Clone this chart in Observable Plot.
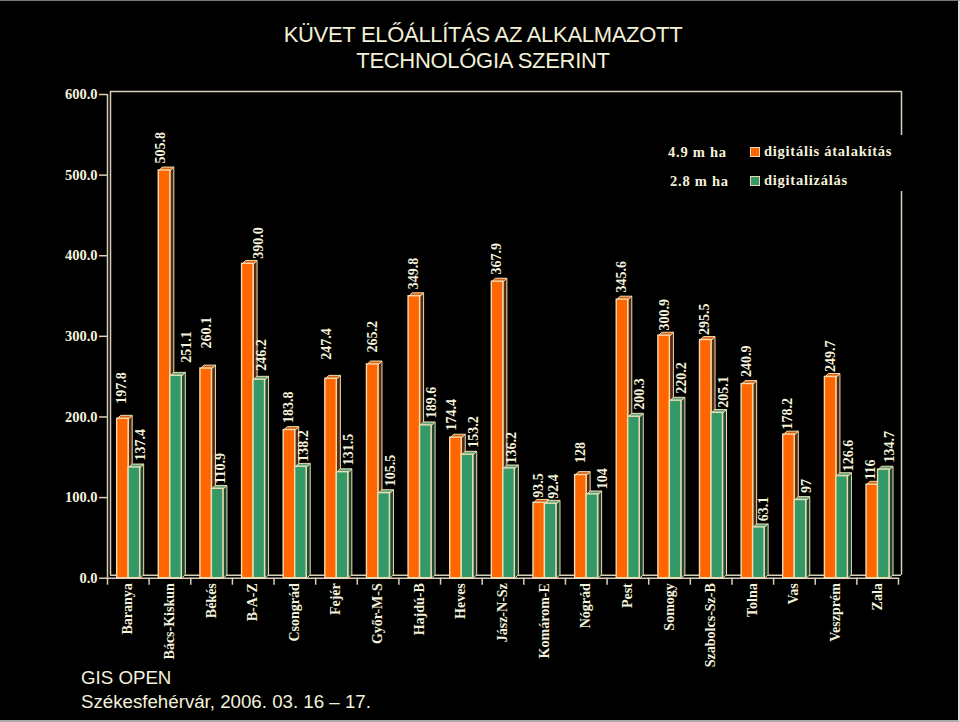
<!DOCTYPE html>
<html><head><meta charset="utf-8">
<script src="https://cdn.jsdelivr.net/npm/d3@7"></script>
<script src="https://cdn.jsdelivr.net/npm/@observablehq/plot@0.6"></script>
<style>
html,body{margin:0;padding:0;background:#000;width:960px;height:722px;overflow:hidden}
#wrap{position:relative;width:960px;height:722px;background:#000;overflow:hidden}
#wrap svg{position:absolute;left:0;top:0;background:#000}
.t{position:absolute;color:#f5f2dc;white-space:nowrap}
.title{font:22px "Liberation Sans";left:0;width:966px;text-align:center;letter-spacing:-.3px;color:#f3f0d8}
.foot{font:18.7px "Liberation Sans";left:81px}
.leg{font:bold 14.5px "Liberation Serif";letter-spacing:.75px}
.sw{position:absolute;width:8px;height:8px;border:1px solid #ecd9b0}
#mask{position:absolute;left:660px;top:135px;width:245px;height:56px;background:#000}
#edge{position:absolute;left:0;top:0;width:958px;border-top:1px solid #777;border-right:2px solid #ddd;border-bottom:2px solid #aaa;box-sizing:content-box;height:719px;pointer-events:none}
</style></head><body>
<div id="wrap"></div>
<script>
const categories = ["Baranya","Bács-Kiskun","Békés","B-A-Z","Csongrád","Fejér","Győr-M-S","Hajdú-B","Heves","Jász-N-Sz","Komárom-E","Nógrád","Pest","Somogy","Szabolcs-Sz-B","Tolna","Vas","Veszprém","Zala"];
const conversion = ["197.8","505.8","260.1","390.0","183.8","247.4","265.2","349.8","174.4","367.9","93.5","128","345.6","300.9","295.5","240.9","178.2","249.7","116"];
const digitizing = ["137.4","251.1","110.9","246.2","138.2","131.5","105.5","189.6","153.2","136.2","92.4","104","200.3","220.2","205.1","63.1","97","126.6","134.7"];
const yTicks = [0,100,200,300,400,500,600];

const cream = "#f0dcb4", ink = "#f5f2dc";
const depthX = 0.085, depthY = 4.2;   // oblique depth of the columns, in scale units
const barW = 0.276, barStart = 0.232;

function faces(labels, slot, front, side, top){
  const rows = labels.map((s,i)=>({i, v:+s, s, x1:i+barStart+slot*barW, x2:i+barStart+(slot+1)*barW}));
  const sidePts = rows.flatMap(r=>[[r.x2,0],[r.x2+depthX,depthY],[r.x2+depthX,r.v+depthY],[r.x2,r.v]].map(([x,y])=>({x,y,z:r.i})));
  const topPts = rows.flatMap(r=>[[r.x1,r.v],[r.x1+depthX,r.v+depthY],[r.x2+depthX,r.v+depthY],[r.x2,r.v]].map(([x,y])=>({x,y,z:r.i})));
  const line = {x:"x",y:"y",z:"z",curve:"linear-closed",stroke:cream,strokeWidth:1};
  return {rows, marks:[
    Plot.line(sidePts,{...line,fill:side}),
    Plot.line(topPts,{...line,fill:top}),
    Plot.rectY(rows,{x1:"x1",x2:"x2",y1:0,y2:"v",fill:front,stroke:cream,strokeWidth:1.4})
  ]};
}
const A = faces(conversion,0,"#ff6600","#5a2a0a","#d9600f");
const B = faces(digitizing,1,"#339966","#1d4a33","#5aa67c");

// label nudges: value -> [dx, gap above the column]; anything else sits at the default
const nudge = {
 "505.8":[-4,7],"390.0":[11,5],"247.4":[-5,19],"174.4":[-4,7],"260.1":[0,20],"265.2":[0,12],"128":[0,12],"197.8":[-1,15],
 "93.5":[-1,5],"300.9":[0,5],"295.5":[-1,5],"249.7":[0,5],"178.2":[-1,5],
 "251.1":[10,13],"104":[10,5],"246.2":[2,9],"110.9":[3,5],"138.2":[3,5],"136.2":[2,5],"92.4":[3,5],"205.1":[6,5],"116":[-2,5],
 "63.1":[5,6],"126.6":[6,5]
};
function labelMarks(rows, defDx){
  return rows.map(r=>{
    const [dx,gap]=nudge[r.s]||[defDx,7];
    return Plot.text([r],{x:d=>(d.x1+d.x2)/2,y:"v",text:"s",rotate:-90,textAnchor:"start",dx,dy:-gap,
      fill:ink,fontFamily:"Liberation Serif",fontWeight:"bold",fontSize:14});
  });
}
const wall = "#d8d0b8";
const plot = Plot.plot({
  width:960,height:722,marginLeft:107,marginRight:62,marginTop:94,marginBottom:144.3,
  style:{background:"#000"},
  x:{domain:[0,19],axis:null},
  y:{domain:[0,600],axis:null},
  marks:[
    // back wall and floor
    Plot.ruleY([600],{x1:0,x2:19,dx:3,dy:-3,stroke:wall,strokeWidth:1.5}),
    Plot.ruleX([19],{y1:0,y2:600,dx:3,dy:-3,stroke:wall,strokeWidth:1.5}),
    Plot.ruleX([0],{y1:0,y2:600,dx:3,dy:-3,stroke:wall,strokeWidth:1.5}),
    Plot.ruleY([0],{x1:0,x2:19,dx:3,dy:-3,stroke:wall,strokeWidth:1.5}),
    // front axes
    Plot.ruleX([0],{y1:0,y2:600,stroke:wall,strokeWidth:1.5}),
    Plot.ruleY([0],{x1:0,x2:19,stroke:wall,strokeWidth:1.5}),
    Plot.axisY(yTicks,{anchor:"left",tickSize:8,tickPadding:2,tickFormat:d=>d.toFixed(1),label:null,stroke:wall,strokeWidth:1.5,
      color:ink,fontFamily:"Liberation Serif",fontWeight:"bold",fontSize:14.5}),
    Plot.axisX(d3.range(20),{anchor:"bottom",tickSize:7,tickFormat:()=>"",label:null,stroke:wall,strokeWidth:1.5}),
    Plot.axisX(d3.range(19).map(i=>i+.5),{anchor:"bottom",tickSize:0,tickPadding:5,tickRotate:-90,label:null,dx:-0.5,
      tickFormat:d=>categories[Math.floor(d)],
      color:ink,fontFamily:"Liberation Serif",fontWeight:"bold",fontSize:14}),
    ...A.marks, ...B.marks,
    ...labelMarks(A.rows,-1), ...labelMarks(B.rows,6)
  ]
});
const w=document.getElementById("wrap");
w.appendChild(plot);
w.insertAdjacentHTML("beforeend",`
<div id="mask"></div>
<div id="edge"></div>
<div class="t title" style="top:22px">KÜVET ELŐÁLLÍTÁS AZ ALKALMAZOTT</div>
<div class="t title" style="top:48px">TECHNOLÓGIA SZERINT</div>
<div class="t foot" style="top:667px">GIS OPEN</div>
<div class="t foot" style="top:691px">Székesfehérvár, 2006. 03. 16 – 17.</div>
<div class="t leg" style="left:668px;top:144px">4.9 m ha</div>
<div class="t leg" style="left:670px;top:173px">2.8 m ha</div>
<div class="sw" style="left:750px;top:147px;background:#ff6600"></div>
<div class="sw" style="left:750px;top:176px;background:#339966"></div>
<div class="t leg" style="left:764px;top:143px">digitális átalakítás</div>
<div class="t leg" style="left:764px;top:172px">digitalizálás</div>`);
</script></body></html>
